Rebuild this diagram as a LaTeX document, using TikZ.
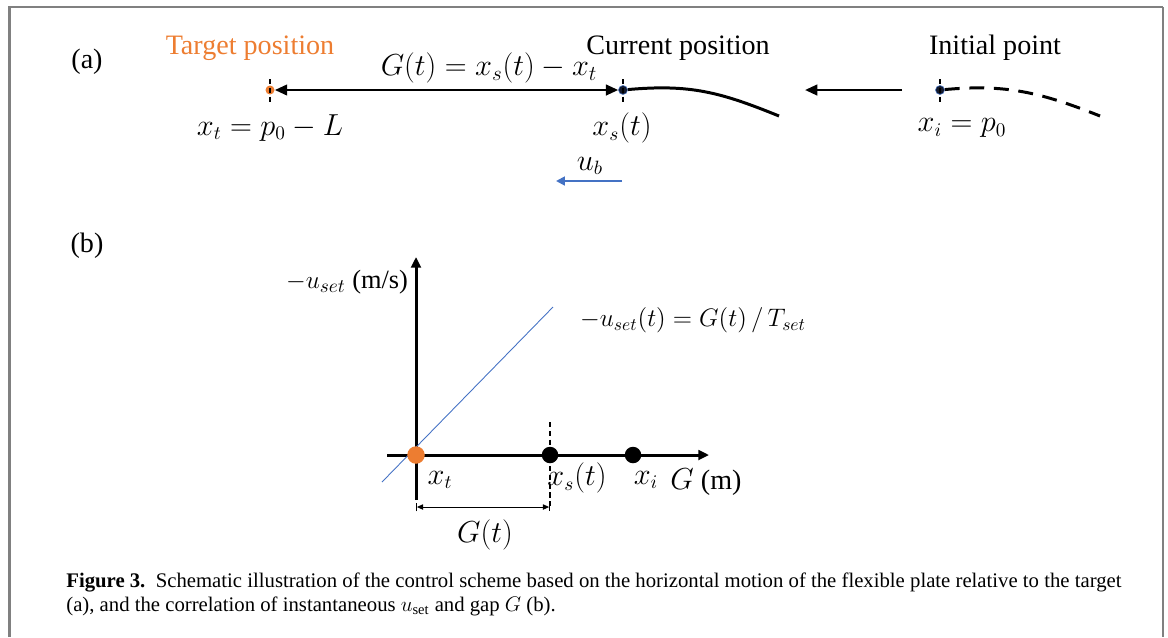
\documentclass[tikz,border=0pt]{standalone}
\usepackage{fontspec}
\setmainfont{Liberation Serif}
\usepackage{amsmath}
\usepackage{xcolor}
\usetikzlibrary{arrows.meta}
\definecolor{tgtorange}{HTML}{ED7D31}
\definecolor{ubblue}{HTML}{4472C4}
\definecolor{framegray}{HTML}{808080}
\definecolor{dotnavy}{HTML}{141A2E}
\tikzset{
  lbl/.style={font=\fontsize{16}{19}\selectfont},
  smalldot/.style={circle,inner sep=0pt,minimum size=0.18cm},
  bigdot/.style={circle,fill=black,inner sep=0pt,minimum size=0.33cm},
  marker/.style={dashed,dash pattern=on 3pt off 2pt,line width=0.7pt},
  heavy/.style={line width=1.4pt},
  axis/.style={line width=1.7pt,-{Triangle[length=6pt,width=5.5pt]}},
  capline/.style={anchor=west,inner sep=0pt,font=\fontsize{11.8}{14}\selectfont},
}
\begin{document}
\begin{tikzpicture}[x=0.02cm,y=-0.02cm]
  \useasboundingbox (0,0) rectangle (1168,637);
  \draw[framegray,line width=1.2pt] (9.5,637) -- (9.5,7) -- (1163,7);
  \draw[framegray,line width=1.6pt] (1163,7) -- (1163,637);
  % (a) plate moving towards the target
  \node[lbl] (laba) at (87,62) {(a)};
  \node[lbl,text=tgtorange] (tgtlbl) at (250,48) {Target position};
  \node[lbl] (curlbl) at (678,48) {Current position};
  \node[lbl] (inilbl) at (995,48) {Initial point};
  \node[smalldot,fill=tgtorange] (tgt) at (270,90) {};
  \node[smalldot,fill=dotnavy,draw=ubblue,line width=0.3pt] (cur) at (623,90) {};
  \node[smalldot,fill=dotnavy,draw=ubblue,line width=0.3pt] (ini) at (940,90) {};
  \draw[marker] (tgt) ++(0,-11) -- ++(0,23);  \draw[marker] (cur) ++(0,-11) -- ++(0,23);
  \draw[marker] (ini) ++(0,-11) -- ++(0,23);
  \draw[heavy,{Triangle[length=7pt,width=6pt]}-{Triangle[length=7pt,width=6pt]}] (tgt) -- (cur);
  \node[lbl,font=\fontsize{17}{20}\selectfont] (gap) at (489,68) {$G(t) = x_s(t) - x_t$};
  \coordinate (plateend) at (779,116);  \coordinate (initend) at (1100,116);
  \draw[line width=1.7pt] (cur) .. controls (690,84) and (720,92) .. (plateend);
  \draw[line width=1.7pt,dash pattern=on 8.5pt off 5.5pt] (ini) .. controls (1005,84) and (1040,92) .. (initend);
  \coordinate (mvfrom) at (902,90);  \coordinate (mvto) at (805,90);
  \draw[heavy,-{Triangle[length=7pt,width=6pt]}] (mvfrom) -- (mvto);
  \node[lbl] (xtlbl) at (270,128) {$x_t = p_0 - L$};
  \node[lbl] (xslbl) at (622,128) {$x_s(t)$};
  \node[lbl] (xilbl) at (962,128) {$x_i = p_0$};
  \coordinate (ubfrom) at (622,181);  \coordinate (ubto) at (556,181);
  \draw[ubblue,line width=1.1pt,-{Triangle[length=5pt,width=5pt]}] (ubfrom) -- (ubto);
  \node[lbl] (ublbl) at (590,166) {$u_b$};
  % (b) set velocity against gap
  \node[lbl] (labb) at (87,246) {(b)};
  \coordinate (O) at (416,455);
  \coordinate (ybot) at (416,500);  \coordinate (ytop) at (416,257);
  \coordinate (xleft) at (387,455);  \coordinate (xright) at (709,455);
  \draw[axis] (ybot) -- (ytop);  \draw[axis] (xleft) -- (xright);
  \coordinate (lineA) at (382,482);  \coordinate (lineB) at (553,307);
  \draw[ubblue,line width=0.5pt] (lineA) -- (lineB);
  \node[bigdot,fill=tgtorange,minimum size=0.35cm] (pt) at (O) {};
  \node[bigdot] (ps) at (550,455) {};
  \node[bigdot] (pi) at (633,455) {};
  \draw[marker] (ps) ++(0,-33) -- ++(0,87);
  \coordinate (dimA) at (416,507);  \coordinate (dimB) at (550,507);
  \draw[|<->|,>={Triangle[length=3.5pt,width=3pt]},line width=0.5pt] (dimA) -- (dimB);
  \node[lbl] (gtlbl) at (485,535) {$G(t)$};
  \node[lbl] (axtlbl) at (440,480) {$x_t$};
  \node[lbl] (axslbl) at (577,478) {$x_s(t)$};
  \node[lbl] (axilbl) at (646,480) {$x_i$};
  \node[lbl] (gmlbl) at (706,482) {$G$ (m)};
  \node[lbl,font=\fontsize{15}{18}\selectfont] (ylbl) at (347,282) {$-u_{set}$ (m/s)};
  \node[lbl,font=\fontsize{14}{17}\selectfont,anchor=west] (fitlbl) at (574,320) {$-u_{set}(t) = G(t)\,/\,T_{set}$};
  % caption
  \node[capline] (cap1) at (66,582)
    {\textbf{Figure 3.}\enspace Schematic illustration of the control scheme based on the horizontal motion of the flexible plate relative to the target};
  \node[capline] (cap2) at (66,606)
    {(a), and the correlation of instantaneous $u_{\mathrm{set}}$ and gap $G$ (b).};
\end{tikzpicture}
\end{document}
